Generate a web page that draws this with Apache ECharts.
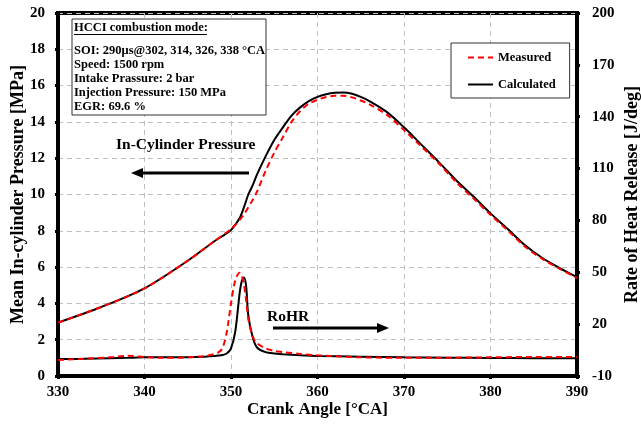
<!DOCTYPE html>
<html>
<head>
<meta charset="utf-8">
<script src="https://cdn.jsdelivr.net/npm/echarts@6/dist/echarts.min.js"></script>
<style>
  html, body { margin: 0; padding: 0; background: #fff; }
  #main { width: 641px; height: 426px; }
</style>
</head>
<body>
<div id="main"></div>
<script>
// pressure traces (MPa, left axis)
var pAngle = [330, 335, 340, 345, 348, 350, 351, 351.5, 352, 352.5, 353, 354, 355, 356, 357, 358, 359, 360,
              361, 362, 363, 364, 365, 366, 368, 370, 372, 374, 376, 378, 380, 382, 384, 386, 388, 390];
var pCalc = [2.94, 3.8, 4.83, 6.35, 7.4, 8.05, 8.7, 9.3, 10.0, 10.5, 11.1, 12.1, 13.0, 13.7, 14.35, 14.8, 15.15, 15.38,
             15.52, 15.6, 15.62, 15.55, 15.38, 15.15, 14.55, 13.7, 12.75, 11.8, 10.8, 9.9, 8.96, 8.1, 7.2, 6.5, 5.95, 5.45];
var pMeas = [2.94, 3.8, 4.83, 6.35, 7.4, 8.1, 8.6, 8.9, 9.3, 9.7, 10.15, 11.3, 12.3, 13.15, 14.0, 14.6, 15.0, 15.22,
             15.37, 15.44, 15.44, 15.35, 15.18, 14.97, 14.4, 13.55, 12.65, 11.72, 10.7, 9.8, 8.88, 8.02, 7.12, 6.45, 5.9, 5.4];

// heat release rate (J/deg, right axis)
var rAngle = [330, 333, 336, 338, 340, 342, 345, 347, 348, 348.5, 349, 349.5, 350, 350.5, 351, 351.25, 351.5, 351.75,
              352, 352.5, 353, 354, 355, 356, 358, 360, 365, 370, 375, 380, 385, 390];
var rCalc = [-0.2, 0, 0.3, 0.5, 0.8, 0.8, 0.9, 1.2, 1.5, 1.8, 2.1, 3, 6, 16, 38, 45, 47, 42,
             25, 12.5, 6.5, 3.8, 3.0, 2.6, 2.0, 1.6, 1.2, 0.8, 0.6, 0.4, 0.3, 0.2];
var rMeas = [-0.7, 0, 0.8, 1.7, 1.0, 0.5, 0.8, 1.5, 2.6, 3.5, 6, 15, 32, 45.5, 49.8, 48, 43, 34,
             23, 13, 9, 6, 4.5, 3.8, 2.8, 2.0, 0.8, 0.6, 0.6, 0.8, 1.0, 1.0];

var infoTitle = 'HCCI combustion mode:';
var infoLines = ['SOI: 290\u03bcs@302, 314, 326, 338 \u00b0CA', 'Speed: 1500 rpm', 'Intake Prassure: 2 bar',
                 'Injection Pressure: 150 MPa', 'EGR: 69.6 %'];

function pairs(xs, ys) {
    return xs.map(function (x, i) { return [x, ys[i]]; });
}

var font = 'Liberation Serif';
var myChart = echarts.init(document.getElementById('main'));

var boxFont = 'bold 12.5px "Liberation Serif"';
var graphics = [
    { type: 'rect', z: 10, shape: { x: 72, y: 19, width: 194, height: 96 }, style: { fill: '#fff', stroke: '#333', lineWidth: 1 } },
    { type: 'text', z: 11, x: 74, y: 28, style: { text: infoTitle, font: boxFont, fill: '#000', verticalAlign: 'middle' } },
    { type: 'line', z: 11, shape: { x1: 74, y1: 34.5, x2: 207, y2: 34.5 }, style: { stroke: '#000', lineWidth: 1 } }
];
var lineY = [50.5, 64.5, 79, 92.5, 106.5];
infoLines.forEach(function (t, i) {
    graphics.push({ type: 'text', z: 11, x: 74, y: lineY[i], style: { text: t, font: boxFont, fill: '#000', verticalAlign: 'middle' } });
});
graphics.push(
    { type: 'text', z: 11, x: 116, y: 145, style: { text: 'In-Cylinder Pressure', font: 'bold 15.5px "Liberation Serif"', fill: '#000', verticalAlign: 'middle' } },
    { type: 'line', z: 11, shape: { x1: 249, y1: 173, x2: 140, y2: 173 }, style: { stroke: '#000', lineWidth: 3 } },
    { type: 'polygon', z: 11, shape: { points: [[131, 173], [143, 168], [143, 178]] }, style: { fill: '#000' } },
    { type: 'text', z: 11, x: 267, y: 317, style: { text: 'RoHR', font: 'bold 15.5px "Liberation Serif"', fill: '#000', verticalAlign: 'middle' } },
    { type: 'line', z: 11, shape: { x1: 273, y1: 328, x2: 380, y2: 328 }, style: { stroke: '#000', lineWidth: 3 } },
    { type: 'polygon', z: 11, shape: { points: [[389, 328], [377, 323], [377, 333]] }, style: { fill: '#000' } }
);

option = {
    animation: false,
    backgroundColor: '#fff',
    grid: {
        left: 58, right: 64, top: 13, bottom: 50,
        outerBoundsMode: 'none',
        show: true, borderColor: '#000', borderWidth: 4
    },
    legend: {
        data: ['Measured', 'Calculated'],
        orient: 'vertical',
        left: 451, top: 43,
        backgroundColor: '#fff',
        borderColor: '#333', borderWidth: 1, borderRadius: 0,
        padding: [8, 14, 7, 16],
        itemWidth: 25, itemHeight: 14, itemGap: 14,
        itemStyle: { opacity: 0 },
        textStyle: { fontFamily: font, fontWeight: 'bold', fontSize: 12.5, color: '#000' }
    },
    xAxis: {
        type: 'value', min: 330, max: 390, interval: 10,
        name: 'Crank Angle [\u00b0CA]', nameLocation: 'middle', nameGap: 25, nameMoveOverlap: false,
        nameTextStyle: { fontFamily: font, fontWeight: 'bold', fontSize: 17, color: '#000' },
        axisLine: { lineStyle: { color: '#000', width: 4 } },
        axisTick: { length: 3, lineStyle: { color: '#000', width: 3 } },
        axisLabel: { margin: 9, fontFamily: font, fontWeight: 'bold', fontSize: 15, color: '#000' },
        splitLine: { show: true, lineStyle: { color: '#c0c0c0', type: [5, 4], width: 1 } }
    },
    yAxis: [
        {
            type: 'value', min: 0, max: 20, interval: 2,
            name: 'Mean In-cylinder Pressure [MPa]', nameLocation: 'middle', nameGap: 31, nameMoveOverlap: false,
            nameTextStyle: { fontFamily: font, fontWeight: 'bold', fontSize: 18, color: '#000' },
            axisLine: { show: true, lineStyle: { color: '#000', width: 4 } },
            axisTick: { show: true, length: 3, lineStyle: { color: '#000', width: 3 } },
            axisLabel: { margin: 13, fontFamily: font, fontWeight: 'bold', fontSize: 15, color: '#000' },
            splitLine: { show: true, lineStyle: { color: '#c0c0c0', type: [5, 4], width: 1 } }
        },
        {
            type: 'value', min: -10, max: 200, interval: 30,
            name: 'Rate of Heat Release [J/deg]', nameLocation: 'middle', nameGap: 46, nameMoveOverlap: false,
            nameTextStyle: { fontFamily: font, fontWeight: 'bold', fontSize: 18, color: '#000' },
            axisLine: { show: true, lineStyle: { color: '#000', width: 4 } },
            axisTick: { show: true, length: 3, lineStyle: { color: '#000', width: 3 } },
            axisLabel: { margin: 15, fontFamily: font, fontWeight: 'bold', fontSize: 15, color: '#000' },
            splitLine: { show: false }
        }
    ],
    series: [
        {
            name: 'Calculated', type: 'line', yAxisIndex: 0, data: pairs(pAngle, pCalc),
            symbol: 'none', smooth: 0.3, lineStyle: { color: '#000', width: 2 }, itemStyle: { color: '#000' }
        },
        {
            name: 'Calculated', type: 'line', yAxisIndex: 1, data: pairs(rAngle, rCalc),
            symbol: 'none', smooth: 0.3, lineStyle: { color: '#000', width: 2 }, itemStyle: { color: '#000' }
        },
        {
            name: 'Measured', type: 'line', yAxisIndex: 0, data: pairs(pAngle, pMeas),
            symbol: 'none', smooth: 0.3, lineStyle: { color: '#ff0000', width: 2, type: [6, 4] }, itemStyle: { color: '#ff0000' }
        },
        {
            name: 'Measured', type: 'line', yAxisIndex: 1, data: pairs(rAngle, rMeas),
            symbol: 'none', smooth: 0.3, lineStyle: { color: '#ff0000', width: 2, type: [6, 4] }, itemStyle: { color: '#ff0000' }
        }
    ],
    graphic: graphics
};
myChart.setOption(option);
</script>
</body>
</html>
